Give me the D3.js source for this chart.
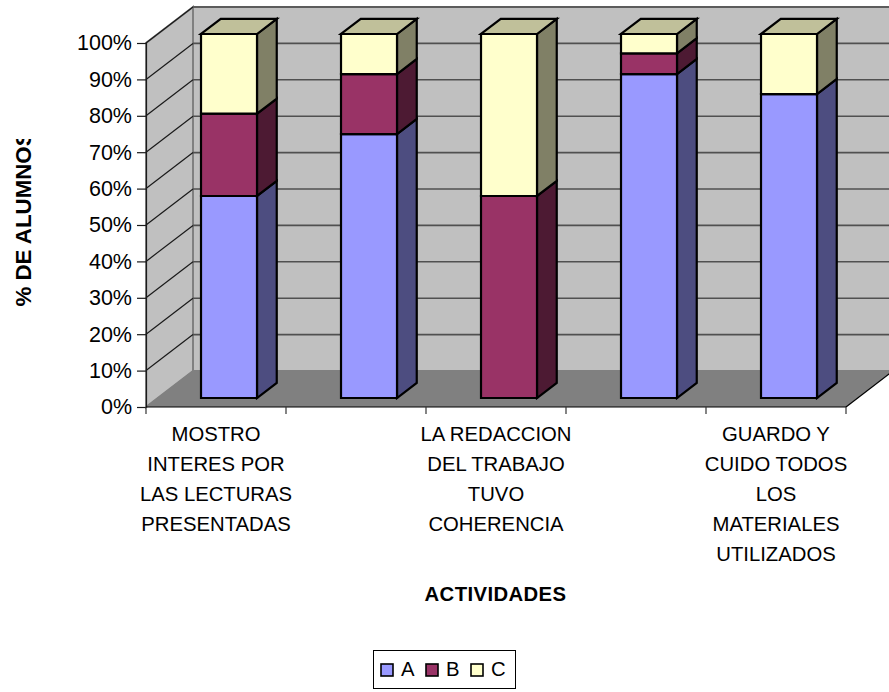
<!DOCTYPE html>
<html>
<head>
<meta charset="utf-8">
<script src="https://cdn.jsdelivr.net/npm/d3@7"></script>
<style>
html, body { margin: 0; padding: 0; background: #fff; }
svg { display: block; }
text { font-family: "Liberation Sans", Arial, sans-serif; fill: #000; }
</style>
</head>
<body>
<div id="chart"></div>
<script>
const categories = ["c1", "c2", "c3", "c4", "c5"];
const categoryLabels = [
    ["MOSTRO", "INTERES POR", "LAS LECTURAS", "PRESENTADAS"],
    [],
    ["LA REDACCION", "DEL TRABAJO", "TUVO", "COHERENCIA"],
    [],
    ["GUARDO Y", "CUIDO TODOS", "LOS", "MATERIALES", "UTILIZADOS"]
];
const seriesNames = ["A", "B", "C"];
const valuesA = [55.5, 72.5, 0, 89, 83.5];
const valuesB = [22.6, 16.5, 55.5, 5.7, 0];
const valuesC = [21.9, 11, 44.5, 5.3, 16.5];
const yTicks = [0, 10, 20, 30, 40, 50, 60, 70, 80, 90, 100];

const seriesColors = { A: "#9999ff", B: "#993366", C: "#ffffcc" };
const sideColors = { A: "#4d4d80", B: "#4d1a33", C: "#808066" };
const topColor = "#c0c09a";

const width = 889, height = 692;
const depthX = 47, depthY = -36;
const fontSize = 20.3;

const svg = d3.select("#chart").append("svg")
    .attr("width", width)
    .attr("height", height);

const y = d3.scaleLinear().domain([0, 100]).range([407, 43]);
const x = d3.scaleBand().domain(categories).range([146, 846]);

// project a point (px at front, value, depth 0..1) to the screen
function pt(px, value, d) {
    return [px + depthX * d, y(value) + depthY * d];
}
const poly = pts => pts.map(p => p.join(",")).join(" ");

const wallGrey = "#c0c0c0", floorGrey = "#808080", edgeGrey = "#808080";
const x0 = x.range()[0], x1 = x.range()[1];

// side wall, back wall, floor
svg.append("polygon")
    .attr("points", poly([pt(x0, 0, 0), pt(x0, 100, 0), pt(x0, 100, 1), pt(x0, 0, 1)]))
    .attr("fill", wallGrey).attr("stroke", edgeGrey).attr("stroke-width", 2);
svg.append("polygon")
    .attr("points", poly([pt(x0, 0, 1), pt(x0, 100, 1), pt(x1, 100, 1), pt(x1, 0, 1)]))
    .attr("fill", wallGrey).attr("stroke", edgeGrey).attr("stroke-width", 2);
svg.append("polygon")
    .attr("points", poly([pt(x0, 0, 0), pt(x1, 0, 0), pt(x1, 0, 1), pt(x0, 0, 1)]))
    .attr("fill", floorGrey);

// gridlines
yTicks.filter(t => t > 0).forEach(t => {
    const a = pt(x0, t, 0), b = pt(x0, t, 1), c = pt(x1, t, 1);
    svg.append("path")
        .attr("d", d3.line()([a, b]))
        .attr("fill", "none").attr("stroke", "#1a1a1a").attr("stroke-width", 1.2);
    svg.append("path")
        .attr("d", d3.line()([b, c]))
        .attr("fill", "none").attr("stroke", "#505050").attr("stroke-width", 1.6);
});
// front and right floor edge
svg.append("path")
    .attr("d", d3.line()([pt(x1, 0, 0), pt(x1, 0, 1)]))
    .attr("fill", "none").attr("stroke", "#000").attr("stroke-width", 1.2);
svg.append("path")
    .attr("d", d3.line()([pt(x0, 0, 0), pt(x0, 0, 1)]))
    .attr("fill", "none").attr("stroke", edgeGrey).attr("stroke-width", 1);

// bars
const barFront = 0.25, barBack = 0.67;
const barInset = 0.309, barShare = 0.4;
const rows = categories.map((c, i) => ({ key: c, A: valuesA[i], B: valuesB[i], C: valuesC[i] }));
const stacked = d3.stack().keys(seriesNames)(rows);
const barsG = svg.append("g").attr("stroke", "#000").attr("stroke-width", 2.2).attr("stroke-linejoin", "miter");

categories.forEach((c, i) => {
    const left = x(c) + x.bandwidth() * barInset;
    const right = left + x.bandwidth() * barShare;
    const lastKey = seriesNames.filter(s => rows[i][s] > 0).pop();
    stacked.forEach(layer => {
        const s = layer.key;
        const v0 = layer[i][0], v1 = layer[i][1];
        if (v1 - v0 <= 0) return;
        barsG.append("polygon")
            .attr("points", poly([pt(right, v0, barFront), pt(right, v1, barFront), pt(right, v1, barBack), pt(right, v0, barBack)]))
            .attr("fill", sideColors[s]);
        barsG.append("polygon")
            .attr("points", poly([pt(left, v0, barFront), pt(right, v0, barFront), pt(right, v1, barFront), pt(left, v1, barFront)]))
            .attr("fill", seriesColors[s]);
        if (s === lastKey) {
            barsG.append("polygon")
                .attr("points", poly([pt(left, v1, barFront), pt(right, v1, barFront), pt(right, v1, barBack), pt(left, v1, barBack)]))
                .attr("fill", topColor);
        }
    });
});

// y axis
const yAxis = svg.append("g")
    .attr("transform", `translate(${x0},0)`)
    .call(d3.axisLeft(y).tickValues(yTicks).tickSize(9).tickPadding(5).tickFormat(d => d + "%"));
yAxis.select(".domain").attr("stroke", "#1a1a1a").attr("stroke-width", 1.2);
yAxis.selectAll("line").attr("stroke", "#1a1a1a").attr("stroke-width", 1.2);
yAxis.selectAll("text").attr("font-size", 21.5).attr("font-family", '"Liberation Sans"').attr("fill", "#000");

// x axis: ticks at band edges
const xAxisEdges = categories.map(c => x(c)).concat([x1]);
const xAxis = svg.append("g").attr("transform", "translate(0,407)");
xAxis.append("line").attr("x1", x0).attr("x2", x1).attr("stroke", "#000").attr("stroke-width", 1.2);
xAxis.selectAll("line.tick").data(xAxisEdges).enter().append("line")
    .attr("class", "tick")
    .attr("x1", d => d).attr("x2", d => d).attr("y1", 0).attr("y2", 7)
    .attr("stroke", "#333").attr("stroke-width", 1.2);

// category labels
const lineH = 30, labelTop = 441;
categoryLabels.forEach((lines, i) => {
    const cx = x(categories[i]) + x.bandwidth() / 2;
    lines.forEach((l, k) => {
        svg.append("text")
            .attr("x", cx).attr("y", labelTop + k * lineH)
            .attr("text-anchor", "middle")
            .attr("font-size", fontSize)
            .text(l);
    });
});

// axis titles
svg.append("text")
    .attr("x", 495.5).attr("y", 601)
    .attr("text-anchor", "middle")
    .attr("font-size", fontSize).attr("font-weight", "bold")
    .attr("letter-spacing", 0.4)
    .text("ACTIVIDADES");

// the title runs past the top of its box in the original, so it gets cut
svg.append("clipPath").attr("id", "ytitle-clip")
    .append("rect").attr("x", 0).attr("y", 139).attr("width", 60).attr("height", 300);
svg.append("g").attr("clip-path", "url(#ytitle-clip)")
    .append("text")
    .attr("transform", "translate(30.5,306.5) rotate(-90)")
    .attr("font-size", 22.3).attr("font-weight", "bold")
    .text("% DE ALUMNOS");

// legend
const legend = svg.append("g");
legend.append("rect")
    .attr("x", 373.5).attr("y", 650.5).attr("width", 142).attr("height", 38)
    .attr("fill", "#fff").attr("stroke", "#000").attr("stroke-width", 1);
const legendX = d3.scalePoint().domain(seriesNames).range([381, 471]);
seriesNames.forEach(s => {
    legend.append("rect")
        .attr("x", legendX(s)).attr("y", 664).attr("width", 12).attr("height", 12)
        .attr("fill", seriesColors[s]).attr("stroke", "#000").attr("stroke-width", 1.6);
    legend.append("text")
        .attr("x", legendX(s) + 20).attr("y", 676)
        .attr("font-size", fontSize)
        .text(s);
});
</script>
</body>
</html>
